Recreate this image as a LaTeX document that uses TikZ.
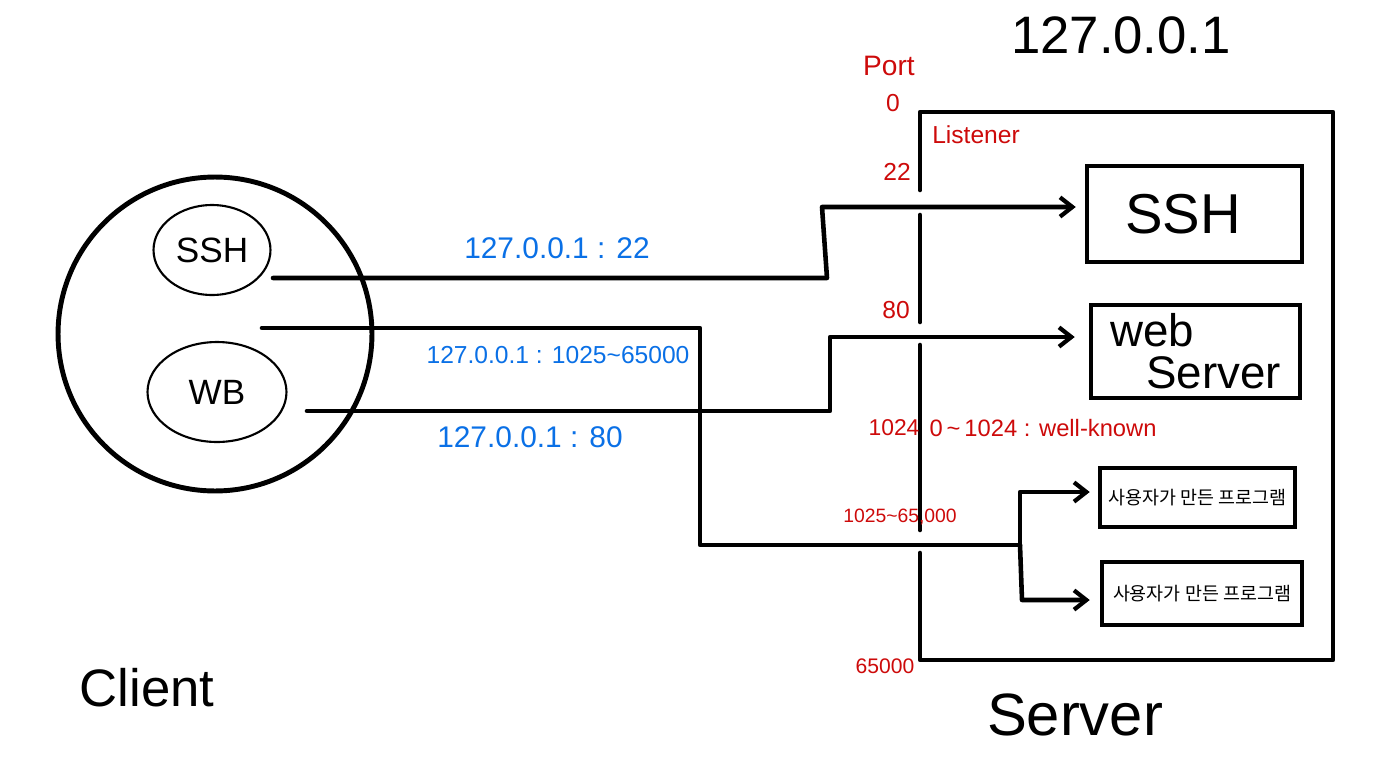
\documentclass[tikz,border=0pt]{standalone}
\usepackage{fontspec}
\setmainfont{Liberation Sans}
\newfontfamily\krfont{Noto Sans CJK KR}
\usetikzlibrary{arrows.meta, shapes.geometric, positioning}
\definecolor{handblue}{RGB}{10, 112, 230}
\definecolor{handred}{RGB}{205, 10, 10}

\begin{document}
\begin{tikzpicture}[
  x=0.02cm, y=-0.02cm,
  wire/.style={line width=2.6pt, line join=round, line cap=round},
  arr/.style={wire, -{Straight Barb[length=7pt, width=11pt, line width=2.4pt]}},
  svcbox/.style={draw, line width=2.6pt, inner sep=0pt},
  prog/.style={svcbox, font=\krfont\fontsize{10.5}{13}\selectfont},
  oval/.style={ellipse, draw, line width=1.2pt, inner sep=0pt},
  bluelbl/.style={color=handblue, font=\fontsize{17}{19}\selectfont},
  redlbl/.style={color=handred, font=\fontsize{14}{16}\selectfont},
  big/.style={font=\fontsize{30}{34}\selectfont}
]
  \useasboundingbox (0,0) rectangle (1389,774);

  % client side
  \draw[line width=2.8pt] (215,334) circle[radius=3.14cm];
  \node[oval, minimum width=2.34cm, minimum height=1.8cm,
        font=\fontsize{20}{22}\selectfont] (cssh) at (212,250) {SSH};
  \node[oval, minimum width=2.78cm, minimum height=2.0cm,
        font=\fontsize{20}{22}\selectfont] (cwb) at (217,392) {WB};
  \node[big] (client) at (147,688) {Client};

  % server side
  \node[big] (addr) at (1121,35) {127.0.0.1};
  \node[big, font=\fontsize{34}{38}\selectfont] (server) at (1075,715) {Server};
  \draw[wire] (920,190) -- (920,112) -- (1333,112) -- (1333,660) -- (920,660) -- (920,553);
  \draw[wire] (920,215) -- (920,322);
  \draw[wire] (920,345) -- (920,530);

  \node[svcbox, minimum width=4.3cm, minimum height=1.92cm,
        font=\fontsize{32}{36}\selectfont] (sshbox) at (1194.5,214) {SSH\hspace*{0.4em}};
  \node[svcbox, minimum width=4.18cm, minimum height=1.86cm, align=center,
        font=\fontsize{26}{24}\selectfont] (webbox) at (1195.5,351.5)
      {web\hspace*{1.9em}\\\hspace*{0.8em}Server};
  \node[prog, minimum width=3.9cm, minimum height=1.18cm] (prog1) at (1197.5,497.5) {사용자가 만든 프로그램};
  \node[prog, minimum width=4.0cm, minimum height=1.26cm] (prog2) at (1202,593.5) {사용자가 만든 프로그램};

  % port numbers
  \node[redlbl, font=\fontsize{16}{18}\selectfont] (port) at (889,66) {Port};
  \node[redlbl] (p0) at (893,103) {0};
  \node[redlbl] (listener) at (976,135) {Listener};
  \node[redlbl] (p22) at (897,172) {22};
  \node[redlbl] (p80) at (896,310) {80};
  \node[redlbl, font=\fontsize{13}{15}\selectfont] (p1024) at (894,428) {1024};
  \node[redlbl, font=\fontsize{13.5}{15}\selectfont] (wellknown) at (1043,428) {0\,\textasciitilde\,1024 : well-known};
  \node[redlbl, font=\fontsize{11}{13}\selectfont] (prange) at (900,517) {1025\textasciitilde65,000};
  \node[redlbl, font=\fontsize{12}{14}\selectfont] (p65000) at (885,666) {65000};

  % connections
  \coordinate (sshout) at (273,278);
  \coordinate (wbout) at (307,411);
  \coordinate (userout) at (262,328);
  \coordinate (j22) at (822,207);
  \coordinate (j80) at (830,337);
  \coordinate (jsplit) at (1020,545);
  \coordinate (jup) at (1020,492);
  \coordinate (jdown) at (1022,600);

  \draw[arr, shorten >=0.18cm] (sshout) -- (827,278) -- (j22) -- (j22 -| sshbox.west);
  \draw[arr, shorten >=0.28cm] (wbout) -- (wbout -| j80) -- (j80) -- (j80 -| webbox.west);
  \draw[wire] (userout) -- (700,328) -- (700,545) -- (jsplit);
  \draw[arr, shorten >=0.16cm] (jsplit) -- (jup) -- (jup -| prog1.west);
  \draw[arr, shorten >=0.2cm] (jsplit) -- (jdown) -- (jdown -| prog2.west);

  \node[bluelbl] (l22) at (557,248) {127.0.0.1 : 22};
  \node[bluelbl, font=\fontsize{14}{16}\selectfont] (luser) at (558,355) {127.0.0.1 : 1025\textasciitilde65000};
  \node[bluelbl] (l80) at (530,437) {127.0.0.1 : 80};
\end{tikzpicture}
\end{document}
